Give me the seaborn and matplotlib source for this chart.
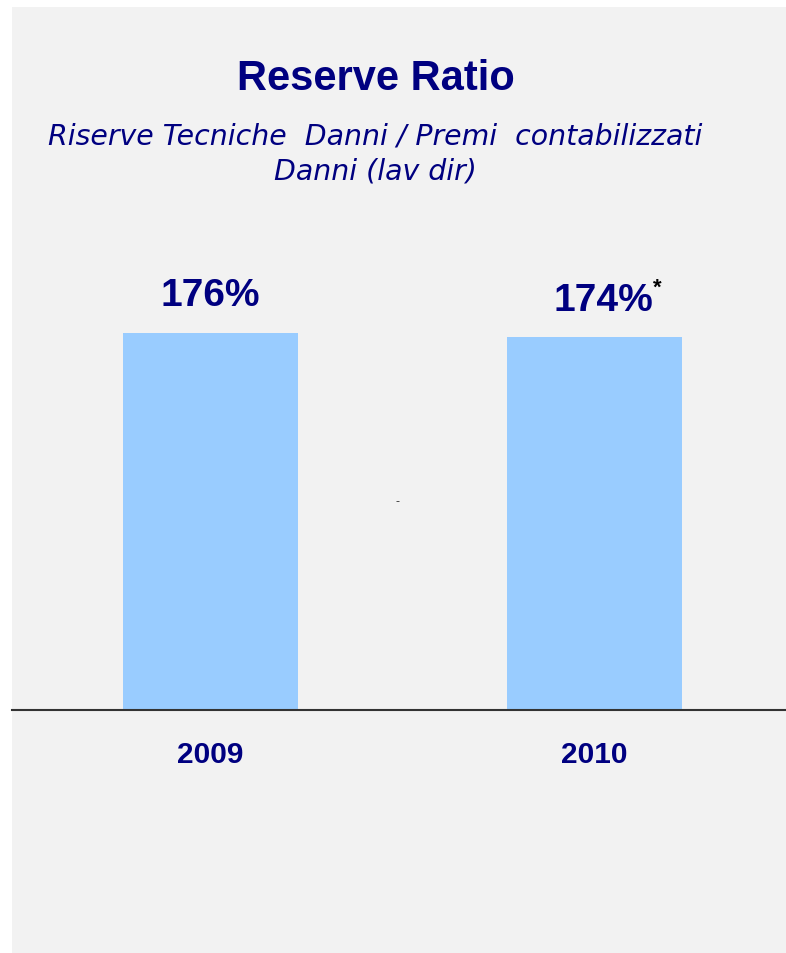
import matplotlib
matplotlib.use("Agg")
import matplotlib.pyplot as plt
import matplotlib.transforms as mtransforms
from matplotlib.patches import Rectangle
import seaborn as sns
import pandas as pd

# dati
years = ["2009", "2010"]
ratios = [176, 174]
value_labels = ["176%", "174%"]
notes = ["", "*"]

navy = "#000080"
bar_color = "#99CCFF"
panel = "#F2F2F2"

sns.set_theme(style="white")
plt.rcParams['font.family'] = ['Liberation Sans', 'DejaVu Sans']

df = pd.DataFrame({"anno": years, "ratio": ratios})

fig = plt.figure(figsize=(7.86, 9.54), dpi=100)
fig.patch.set_facecolor("white")
# pannello grigio (dietro agli assi)
fig.patches.append(Rectangle((12 / 786, 0), 1, (954 - 8) / 954,
                             transform=fig.transFigure, facecolor=panel,
                             edgecolor="none", zorder=-10))

ax = fig.add_axes([12 / 786, 1 - 711 / 954, 1 - 12 / 786, 481 / 954])
ax.set_facecolor("none")
ax.set_zorder(1)

sns.barplot(data=df, x="anno", y="ratio", color=bar_color, width=175 / 384,
            saturation=1, linewidth=0, edgecolor="none", ax=ax)

ax.set_xlim(-0.517, 1.499)
ax.set_ylim(0, 481 / (377 / 176))
ax.set_xlabel("")
ax.set_ylabel("")
ax.set_yticks([])
ax.set_xticks([])
for s in ["top", "right", "left"]:
    ax.spines[s].set_visible(False)
ax.spines["bottom"].set_color("#333333")
ax.spines["bottom"].set_linewidth(1.5)

# etichette valori
for i, (v, lab, n) in enumerate(zip(ratios, value_labels, notes)):
    dx = 6.8 if n else 0
    ax.annotate(lab, (i, v), xytext=(dx, 27), textcoords="offset points",
                ha="center", va="center", fontsize=28, fontweight="bold",
                color=navy)
    if n:
        ax.annotate(n, (i, v), xytext=(45, 36), textcoords="offset points",
                    ha="center", va="center", fontsize=16, fontweight="bold",
                    color="black")

# anni sotto l'asse
trans = mtransforms.blended_transform_factory(ax.transData, ax.transAxes)
for i, y in enumerate(years):
    ax.text(i, -44 / 481, y, transform=trans, ha="center", va="center",
            fontsize=21.5, fontweight="bold", color=navy)

# titoli
fig.text(376 / 786, 1 - 79 / 954, "Reserve Ratio", ha="center", va="center",
         fontsize=30, fontweight="bold", color=navy)
fig.text(375 / 786, 1 - 154 / 954,
         "Riserve Tecniche  Danni / Premi  contabilizzati\nDanni (lav dir)",
         ha="center", va="center", fontsize=20.4, style="italic", color=navy,
         family=["DejaVu Sans"], linespacing=1.35)

fig.text(397 / 786, 1 - 502 / 954, "-", ha="center", va="center",
         fontsize=9, color="#333333")

fig.savefig("out.png", dpi=100, facecolor=fig.get_facecolor())
